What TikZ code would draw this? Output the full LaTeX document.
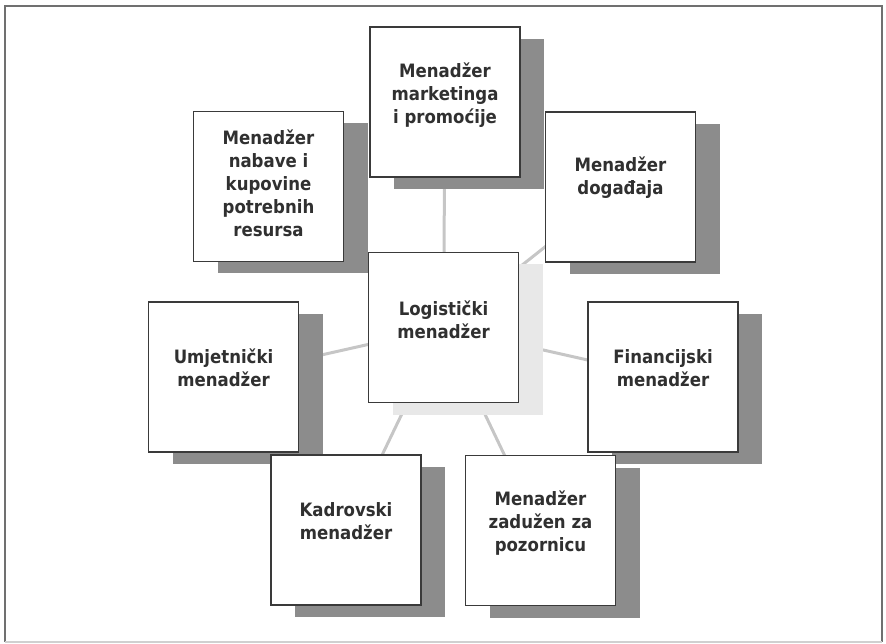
\documentclass[tikz,border=0pt]{standalone}
\usepackage{fontspec}
\setmainfont{DejaVu Sans}[FakeStretch=0.9]
\usetikzlibrary{shadows}
\definecolor{framec}{HTML}{707070}
\definecolor{framelt}{HTML}{D0D0D0}
\definecolor{boxline}{HTML}{3A3A3A}
\definecolor{txtc}{HTML}{303030}
\definecolor{shdark}{HTML}{8C8C8C}
\definecolor{shlight}{HTML}{E8E8E8}
\definecolor{connc}{HTML}{C6C6C6}
\pgfdeclarelayer{background}
\pgfsetlayers{background,main}
\tikzset{
  rolebox/.style={draw=boxline, line width=1.3pt, fill=white, minimum width=150pt, minimum height=150pt, inner sep=0pt, outer sep=0pt,
    general shadow={fill=shdark, shadow xshift=24pt, shadow yshift=-12pt}},
  centerbox/.style={draw=boxline, line width=1.3pt, fill=white, minimum width=150pt, minimum height=150pt, inner sep=0pt, outer sep=0pt,
    general shadow={fill=shlight, shadow xshift=24pt, shadow yshift=-12pt}},
  lbl/.style={align=center, text=txtc, font=\fontsize{18.4}{23}\selectfont\bfseries, inner sep=0pt},
  conn/.style={draw=connc, line width=3pt}
}
\begin{document}
\begin{tikzpicture}[x=1pt, y=-1pt]
\useasboundingbox (0,0) rectangle (886,644);
\draw[framec, line width=1.4pt] (5,642) -- (5,6) -- (882,6) -- (882,642);
\draw[framelt, line width=1.2pt] (5,642) -- (882,642);
% boxes
\node[rolebox] (mark) at (445,102) {};
\node[rolebox] (nab) at (268.5,186.5) {};
\node[rolebox] (dog) at (620.5,187) {};
\node[centerbox] (log) at (443.5,327.5) {};
\node[rolebox] (umj) at (223.5,377) {};
\node[rolebox] (fin) at (663,377) {};
\node[rolebox] (kad) at (346,530) {};
\node[rolebox] (poz) at (540.5,530.5) {};
% labels
\node[lbl] (mark-t) at ([yshift=7pt]mark.center) {Menadžer\\marketinga\\i promoćije};
\node[lbl] (nab-t) at ([yshift=3pt]nab.center) {Menadžer\\nabave i\\kupovine\\potrebnih\\resursa};
\node[lbl] (dog-t) at ([yshift=9pt]dog.center) {Menadžer\\događaja};
\node[lbl] (log-t) at ([yshift=8pt]log.center) {Logistički\\menadžer};
\node[lbl] (umj-t) at ([yshift=9pt]umj.center) {Umjetnički\\menadžer};
\node[lbl] (fin-t) at ([yshift=9pt]fin.center) {Financijski\\menadžer};
\node[lbl] (kad-t) at ([yshift=9pt]kad.center) {Kadrovski\\menadžer};
\node[lbl] (poz-t) at ([yshift=7.5pt]poz.center) {Menadžer\\zadužen za\\pozornicu};
% connectors
\begin{pgfonlayer}{background}
\foreach \n in {mark,nab,dog,umj,fin,kad,poz}
  \draw[conn] (log.center) -- (\n.center);
\end{pgfonlayer}
\end{tikzpicture}
\end{document}
